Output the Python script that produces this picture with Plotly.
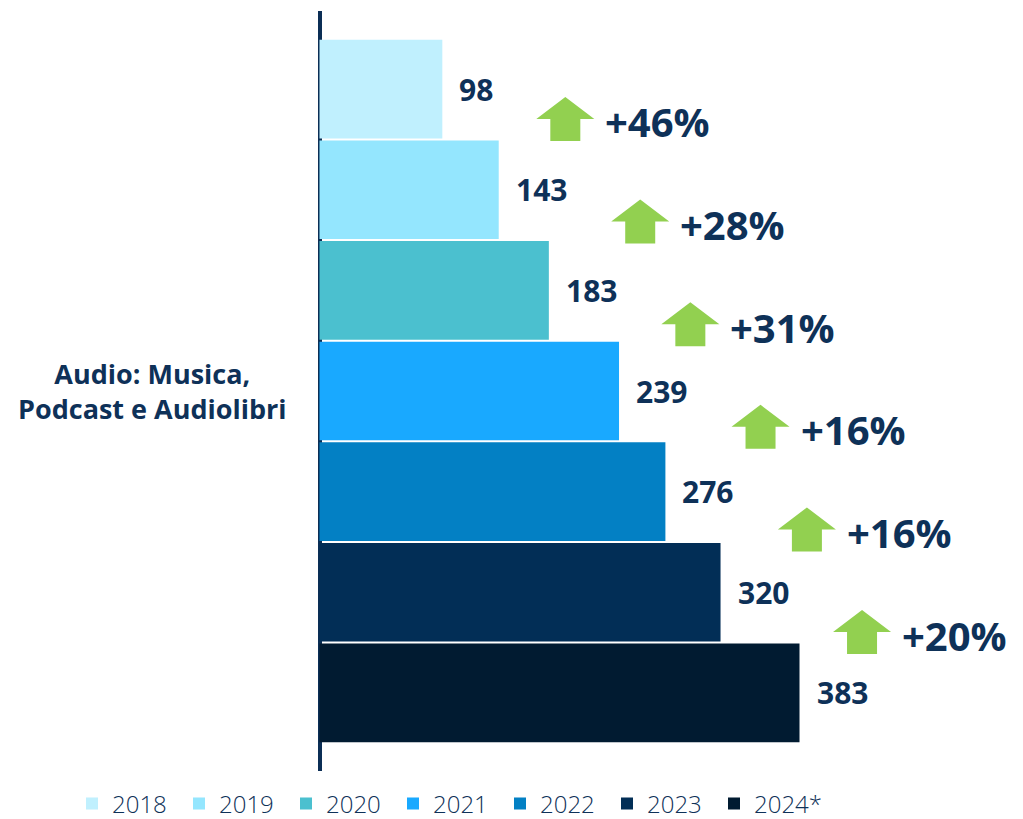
import plotly.graph_objects as go

# Audio market values by year (single category, one bar per year)
category = "Audio: Musica, Podcast e Audiolibri"
years = ["2018", "2019", "2020", "2021", "2022", "2023", "2024*"]
values = [98, 143, 183, 239, 276, 320, 383]
growth_labels = ["+46%", "+28%", "+31%", "+16%", "+16%", "+20%"]
colors = ["#C0F0FE", "#94E6FE", "#4BC0CF", "#19A9FF", "#0380C4", "#022E56", "#011B31"]

NAVY = "#0E3158"
GREEN = "#92D050"
BOLD_FONT = "Open Sans"

BARGAP = 0.073
n = len(years)
slot = (1 - BARGAP) / n

def bar_center(i):
    return -0.5 + BARGAP / 2 + (i + 0.5) * slot

def bar_boundary(i):
    # boundary between bar i and bar i+1 on the category axis
    return -0.5 + BARGAP / 2 + (i + 1) * slot

fig = go.Figure()
for yr, v, c in zip(years, values, colors):
    fig.add_trace(go.Bar(
        y=[category], x=[v], name=yr, orientation="h",
        marker=dict(color=c, line=dict(width=0)),
        hoverinfo="x+name",
    ))

annotations = []
shapes = []

# value labels at the end of each bar
for i, v in enumerate(values):
    annotations.append(dict(
        x=v, y=bar_center(i), xref="x", yref="y",
        text=f"<b>{v}</b>", showarrow=False,
        xanchor="left", yanchor="middle", xshift=15,
        font=dict(family=BOLD_FONT, size=30, color=NAVY),
    ))

# growth arrows and percentages between consecutive years
for i, lab in enumerate(growth_labels):
    prev = values[i]
    digits = len(str(prev))
    lift = 20.5 - 2 * i
    cx = 16 + 18.5 * digits + 70
    hw, sw, hh, total = 29, 15, 22, 44
    top = lift + total / 2
    base = top - hh
    bottom = lift - total / 2
    path = (f"M{cx - sw},{bottom} L{cx - sw},{base} L{cx - hw},{base} "
            f"L{cx},{top} L{cx + hw},{base} L{cx + sw},{base} L{cx + sw},{bottom} Z")
    shapes.append(dict(
        type="path", xref="x", yref="y",
        xsizemode="pixel", ysizemode="pixel",
        xanchor=prev, yanchor=bar_boundary(i),
        path=path, fillcolor=GREEN, line=dict(width=0), layer="above",
    ))
    annotations.append(dict(
        x=prev, y=bar_boundary(i), xref="x", yref="y",
        text=f"<b>{lab}</b>", showarrow=False,
        xanchor="left", yanchor="middle",
        xshift=cx + hw + 9, yshift=lift - 3,
        font=dict(family=BOLD_FONT, size=40, color=NAVY),
    ))

# category label, centred on two lines
annotations.append(dict(
    x=152 / 1023, y=0, xref="paper", yref="y",
    text="<b>Audio: Musica,<br>Podcast e Audiolibri</b>",
    showarrow=False, xanchor="center", yanchor="middle", align="center",
    font=dict(family=BOLD_FONT, size=27, color=NAVY),
))

# x scale: the value axis starts 319.5 px from the left edge
PX_PER_UNIT = 480 / 383
X_MIN = -319.5 / PX_PER_UNIT
X_MAX = (1023 - 319.5) / PX_PER_UNIT

fig.update_layout(
    width=1023, height=819,
    margin=dict(l=0, r=0, t=11, b=48),
    paper_bgcolor="white", plot_bgcolor="white",
    barmode="group", bargap=BARGAP, bargroupgap=0.02,
    showlegend=True,
    legend=dict(
        orientation="h", xref="paper", yref="container",
        x=72 / 1023, xanchor="left", y=0.0185, yanchor="middle",
        font=dict(family="Open Sans", size=24, color=NAVY, weight=300),
        entrywidth=62, entrywidthmode="pixels", traceorder="normal",
        itemclick=False, itemdoubleclick=False,
    ),
    xaxis=dict(
        range=[X_MIN, X_MAX], showticklabels=False, showgrid=False, ticks="",
        showline=False, zeroline=True, zerolinecolor="#0B2E55", zerolinewidth=3.5,
        fixedrange=True,
    ),
    yaxis=dict(
        range=[0.5, -0.5], showticklabels=False, showgrid=False, zeroline=False,
        showline=False, ticks="", fixedrange=True,
    ),
    annotations=annotations, shapes=shapes,
)

fig.write_html("out.html")
